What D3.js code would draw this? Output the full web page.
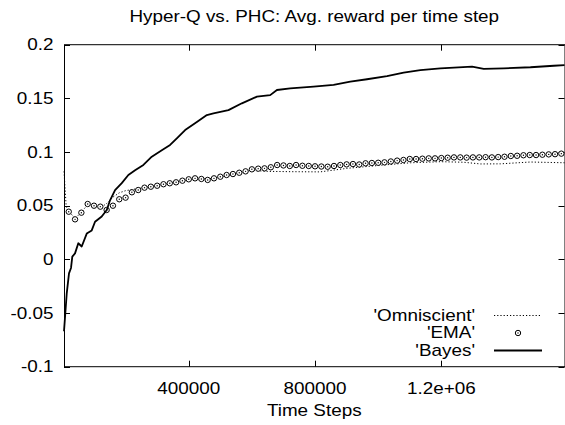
<!DOCTYPE html>
<html>
<head>
<meta charset="utf-8">
<script src="https://cdn.jsdelivr.net/npm/d3@7"></script>
<style>
  body { margin: 0; background: #fff; }
  text { font-family: "Liberation Sans", Arial, sans-serif; font-size: 16px; fill: #000; }
</style>
</head>
<body>
<script>
"use strict";
// data
const titleText = "Hyper-Q vs. PHC: Avg. reward per time step"
const xLabel = "Time Steps"
const xTicks = [400000, 800000, 1200000]
const xTickLabels = ["400000", "800000", "1.2e+06"]
const yTicks = [-0.1, -0.05, 0, 0.05, 0.1, 0.15, 0.2]
const yTickLabels = ["-0.1", "-0.05", "0", "0.05", "0.1", "0.15", "0.2"]
const seriesNames = ["'Omniscient'", "'EMA'", "'Bayes'"]

const omniSteps = [5000, 12000, 20000, 40000, 60000, 80000, 100000, 120000, 140000, 160000, 180000, 200000,
  240000, 280000, 320000, 360000, 400000, 440000, 480000, 520000, 560000, 600000, 648000, 721000, 816000,
  901000, 1016000, 1102000, 1197000, 1270000, 1324000, 1387000, 1482000, 1590000]
const omniValues = [0.082, 0.049, 0.045, 0.038, 0.044, 0.051, 0.049, 0.048, 0.052, 0.058, 0.062, 0.064,
  0.066, 0.068, 0.07, 0.072, 0.074, 0.075, 0.0755, 0.078, 0.0805, 0.083, 0.082, 0.0817, 0.0815,
  0.0848, 0.0879, 0.09, 0.091, 0.0905, 0.0889, 0.089, 0.0907, 0.09]

const emaSteps = d3.range(20000, 1580001, 20000)
const emaValues = [0.0444, 0.0373, 0.0435, 0.0516, 0.050, 0.0491, 0.046, 0.050, 0.056, 0.0575,
  0.0625, 0.0646, 0.0668, 0.0677, 0.0686, 0.070, 0.0709, 0.0718, 0.0733, 0.0746,
  0.0755, 0.0749, 0.074, 0.0755, 0.077, 0.0786, 0.0795, 0.0807, 0.082, 0.0839,
  0.0845, 0.0848, 0.0858, 0.0879, 0.0875, 0.087, 0.0879, 0.0872, 0.087, 0.0867,
  0.0865, 0.0863, 0.087, 0.0879, 0.0885, 0.0888, 0.0884, 0.0895, 0.0898, 0.090,
  0.0904, 0.0912, 0.092, 0.0926, 0.0935, 0.0935, 0.0938, 0.0941, 0.0941, 0.0944,
  0.0947, 0.095, 0.095, 0.0948, 0.095, 0.095, 0.0952, 0.095, 0.0953, 0.0956,
  0.0963, 0.0965, 0.097, 0.0972, 0.0972, 0.0975, 0.0978, 0.098, 0.0985]

const bayesSteps = [5000, 13600, 20850, 27200, 31300, 39900, 50300, 61100, 77000, 92800, 103300, 124500,
  140400, 150800, 166700, 187900, 208800, 230100, 256400, 283000, 314700, 341000, 362300, 388600,
  425700, 457400, 478300, 525800, 568300, 615900, 658000, 679300, 721400, 795300, 858700, 911600,
  964600, 1027900, 1080600, 1133500, 1196900, 1297400, 1334200, 1397600, 1482200, 1556100, 1590000]
const bayesValues = [-0.067, -0.032, -0.013, -0.008, 0.0025, 0.0056, 0.015, 0.012, 0.024, 0.027, 0.035, 0.04,
  0.046, 0.055, 0.0646, 0.071, 0.0786, 0.083, 0.088, 0.0957, 0.1016, 0.1066, 0.1128, 0.1205,
  0.128, 0.1345, 0.136, 0.139, 0.1454, 0.1516, 0.153, 0.1578, 0.1594, 0.161, 0.1625, 0.1655,
  0.1678, 0.1708, 0.174, 0.1764, 0.178, 0.1795, 0.1774, 0.178, 0.179, 0.1804, 0.181]

// layout
const W = 565, H = 425
const plot = { left: 64, right: 564.5, top: 44.7, bottom: 366.7 }
const stretch = 1.18 // text in the picture is wider than it is tall

const svg = d3.select("body").append("svg")
  .attr("width", W)
  .attr("height", H)

const x = d3.scaleLinear().domain([5000, 1590000]).range([plot.left, plot.right])
const y = d3.scaleLinear().domain([-0.1, 0.2]).range([plot.bottom, plot.top])

function label(px, py, str, anchor) {
  svg.append("text")
    .attr("transform", `translate(${px},${py}) scale(${stretch},1)`)
    .attr("text-anchor", anchor)
    .attr("dominant-baseline", "central")
    .text(str)
}

// ticks (inward, mirrored like gnuplot)
const tickLen = 6
const ticks = svg.append("g").attr("stroke", "#000").attr("stroke-width", 1)
yTicks.forEach((v, i) => {
  const py = Math.round(y(v)) + 0.5
  ticks.append("line").attr("x1", plot.left).attr("x2", plot.left + tickLen).attr("y1", py).attr("y2", py)
  ticks.append("line").attr("x1", plot.right - tickLen).attr("x2", plot.right).attr("y1", py).attr("y2", py)
  label(53.5, y(v), yTickLabels[i], "end")
})
xTicks.forEach((v, i) => {
  const px = Math.round(x(v)) + 0.5
  ticks.append("line").attr("x1", px).attr("x2", px).attr("y1", plot.bottom).attr("y2", plot.bottom - tickLen)
  ticks.append("line").attr("x1", px).attr("x2", px).attr("y1", plot.top).attr("y2", plot.top + tickLen)
  label(x(v), 389, xTickLabels[i], "middle")
})

// border
svg.append("rect")
  .attr("x", plot.left + 0.5).attr("y", plot.top)
  .attr("width", plot.right - plot.left).attr("height", plot.bottom - plot.top)
  .attr("fill", "none").attr("stroke", "#000").attr("stroke-width", 1)

label((plot.left + plot.right) / 2, 17, titleText, "middle")
label((plot.left + plot.right) / 2, 411, xLabel, "middle")

const line = d3.line().x(d => x(d[0])).y(d => y(d[1]))

// Omniscient - dotted
svg.append("path")
  .datum(d3.zip(omniSteps, omniValues))
  .attr("d", line)
  .attr("fill", "none").attr("stroke", "#000").attr("stroke-width", 1)
  .attr("stroke-dasharray", "1.2,2")

// EMA - circled dots
function circlePoint(g, px, py) {
  g.append("circle").attr("cx", px).attr("cy", py).attr("r", 2.7)
    .attr("fill", "#fff").attr("stroke", "#000").attr("stroke-width", 1)
  g.append("circle").attr("cx", px).attr("cy", py).attr("r", 0.7).attr("fill", "#000")
}
const ema = svg.append("g")
d3.zip(emaSteps, emaValues).forEach(d => circlePoint(ema, x(d[0]), y(d[1])))

// Bayes - solid
svg.append("path")
  .datum(d3.zip(bayesSteps, bayesValues))
  .attr("d", line)
  .attr("fill", "none").attr("stroke", "#000").attr("stroke-width", 1.8)
  .attr("stroke-linejoin", "round")

// legend
const legendY = [315.5, 333, 350.5]
const sampleX = [494, 542]
seriesNames.forEach((name, i) => label(475, legendY[i], name, "end"))
svg.append("line").attr("x1", sampleX[0]).attr("x2", sampleX[1]).attr("y1", legendY[0]).attr("y2", legendY[0])
  .attr("stroke", "#000").attr("stroke-width", 1).attr("stroke-dasharray", "1.2,2")
circlePoint(svg, (sampleX[0] + sampleX[1]) / 2, legendY[1])
svg.append("line").attr("x1", sampleX[0]).attr("x2", sampleX[1]).attr("y1", legendY[2]).attr("y2", legendY[2])
  .attr("stroke", "#000").attr("stroke-width", 1.8)
</script>
</body>
</html>
